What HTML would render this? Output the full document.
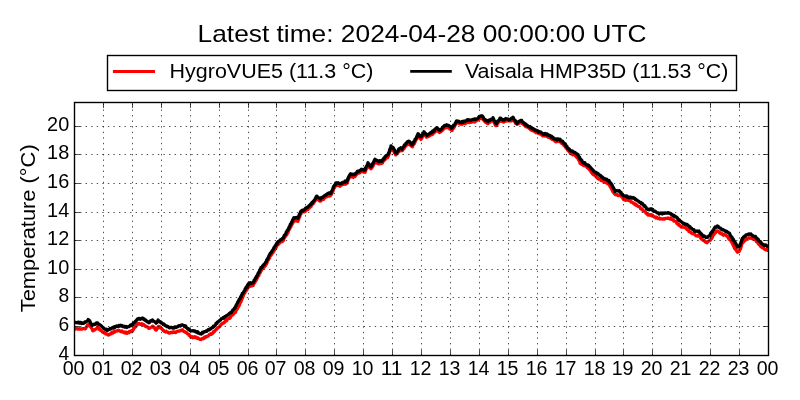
<!DOCTYPE html>
<html><head><meta charset="utf-8"><style>
html,body{margin:0;padding:0;background:#fff;width:800px;height:400px;overflow:hidden}
svg{display:block;will-change:transform}
text{font-family:"Liberation Sans",sans-serif;fill:#000}
</style></head><body>
<svg width="800" height="400" viewBox="0 0 800 400">
<rect width="800" height="400" fill="#fff"/>
<defs><clipPath id="ax"><rect x="74.5" y="102.5" width="694.00" height="253.00"/></clipPath></defs>
<text x="197.6" y="41.9" font-size="23.8" textLength="448.9" lengthAdjust="spacingAndGlyphs">Latest time: 2024-04-28 00:00:00 UTC</text>
<rect x="107.5" y="55.5" width="629" height="35" fill="#fff" stroke="#000" stroke-width="1.39"/>
<path d="M114.3 71.5H153.6" stroke="#f00" stroke-width="2.78" stroke-linecap="square"/>
<path d="M411.6 71.4H450.4" stroke="#000" stroke-width="2.78" stroke-linecap="square"/>
<g font-size="19.9">
<text x="169.6" y="78.1" textLength="203.9" lengthAdjust="spacingAndGlyphs">HygroVUE5 (11.3 °C)</text>
<text x="464.9" y="78.1" textLength="263.5" lengthAdjust="spacingAndGlyphs">Vaisala HMP35D (11.53 °C)</text>
<text x="73.60" y="375.3" text-anchor="middle" textLength="21.8" lengthAdjust="spacingAndGlyphs">00</text><text x="102.60" y="375.3" text-anchor="middle" textLength="21.8" lengthAdjust="spacingAndGlyphs">01</text><text x="131.60" y="375.3" text-anchor="middle" textLength="21.8" lengthAdjust="spacingAndGlyphs">02</text><text x="160.60" y="375.3" text-anchor="middle" textLength="21.8" lengthAdjust="spacingAndGlyphs">03</text><text x="189.60" y="375.3" text-anchor="middle" textLength="21.8" lengthAdjust="spacingAndGlyphs">04</text><text x="218.60" y="375.3" text-anchor="middle" textLength="21.8" lengthAdjust="spacingAndGlyphs">05</text><text x="247.60" y="375.3" text-anchor="middle" textLength="21.8" lengthAdjust="spacingAndGlyphs">06</text><text x="275.60" y="375.3" text-anchor="middle" textLength="21.8" lengthAdjust="spacingAndGlyphs">07</text><text x="304.60" y="375.3" text-anchor="middle" textLength="21.8" lengthAdjust="spacingAndGlyphs">08</text><text x="333.60" y="375.3" text-anchor="middle" textLength="21.8" lengthAdjust="spacingAndGlyphs">09</text><text x="362.60" y="375.3" text-anchor="middle" textLength="21.8" lengthAdjust="spacingAndGlyphs">10</text><text x="391.60" y="375.3" text-anchor="middle" textLength="21.8" lengthAdjust="spacingAndGlyphs">11</text><text x="420.60" y="375.3" text-anchor="middle" textLength="21.8" lengthAdjust="spacingAndGlyphs">12</text><text x="449.60" y="375.3" text-anchor="middle" textLength="21.8" lengthAdjust="spacingAndGlyphs">13</text><text x="478.60" y="375.3" text-anchor="middle" textLength="21.8" lengthAdjust="spacingAndGlyphs">14</text><text x="507.60" y="375.3" text-anchor="middle" textLength="21.8" lengthAdjust="spacingAndGlyphs">15</text><text x="536.60" y="375.3" text-anchor="middle" textLength="21.8" lengthAdjust="spacingAndGlyphs">16</text><text x="565.60" y="375.3" text-anchor="middle" textLength="21.8" lengthAdjust="spacingAndGlyphs">17</text><text x="594.60" y="375.3" text-anchor="middle" textLength="21.8" lengthAdjust="spacingAndGlyphs">18</text><text x="622.60" y="375.3" text-anchor="middle" textLength="21.8" lengthAdjust="spacingAndGlyphs">19</text><text x="651.60" y="375.3" text-anchor="middle" textLength="21.8" lengthAdjust="spacingAndGlyphs">20</text><text x="680.60" y="375.3" text-anchor="middle" textLength="21.8" lengthAdjust="spacingAndGlyphs">21</text><text x="709.60" y="375.3" text-anchor="middle" textLength="21.8" lengthAdjust="spacingAndGlyphs">22</text><text x="738.60" y="375.3" text-anchor="middle" textLength="21.8" lengthAdjust="spacingAndGlyphs">23</text><text x="767.60" y="375.3" text-anchor="middle" textLength="21.8" lengthAdjust="spacingAndGlyphs">00</text><text x="69.20" y="359.60" text-anchor="end" textLength="10.7" lengthAdjust="spacingAndGlyphs">4</text><text x="69.20" y="330.60" text-anchor="end" textLength="10.7" lengthAdjust="spacingAndGlyphs">6</text><text x="69.20" y="301.60" text-anchor="end" textLength="10.7" lengthAdjust="spacingAndGlyphs">8</text><text x="69.20" y="273.60" text-anchor="end" textLength="22.1" lengthAdjust="spacingAndGlyphs">10</text><text x="69.20" y="244.60" text-anchor="end" textLength="22.1" lengthAdjust="spacingAndGlyphs">12</text><text x="69.20" y="216.60" text-anchor="end" textLength="22.1" lengthAdjust="spacingAndGlyphs">14</text><text x="69.20" y="187.60" text-anchor="end" textLength="22.1" lengthAdjust="spacingAndGlyphs">16</text><text x="69.20" y="158.60" text-anchor="end" textLength="22.1" lengthAdjust="spacingAndGlyphs">18</text><text x="69.20" y="130.60" text-anchor="end" textLength="22.1" lengthAdjust="spacingAndGlyphs">20</text>
<text transform="translate(35.2 228.3) rotate(-90)" text-anchor="middle" textLength="168" lengthAdjust="spacingAndGlyphs">Temperature (°C)</text>
</g>
<g clip-path="url(#ax)" fill="none" stroke-width="3.3" stroke-linejoin="round" stroke-linecap="square">
<polyline points="74.6,329.0 75.3,329.1 76.0,328.1 76.8,328.1 77.5,329.1 78.2,329.0 78.9,329.0 79.6,328.6 80.3,329.0 81.1,329.0 81.8,329.1 82.5,328.6 83.1,328.7 83.7,328.5 84.4,328.7 85.0,328.9 85.6,328.6 86.0,327.6 86.5,327.0 87.0,326.2 87.4,325.4 87.8,324.9 88.3,324.9 88.8,324.2 89.1,324.8 89.5,326.0 89.9,326.1 90.3,326.7 90.7,326.9 91.1,327.2 91.5,328.1 91.9,328.5 92.3,329.5 92.7,330.6 93.1,330.8 93.6,329.8 94.2,330.3 94.8,329.8 95.3,329.3 95.8,329.2 96.4,328.6 97.0,328.2 97.5,327.3 98.0,328.5 98.6,329.0 99.2,328.5 99.7,329.7 100.2,330.1 100.8,330.3 101.4,330.8 101.9,331.2 102.5,332.1 103.1,331.9 103.8,332.7 104.4,332.4 105.0,333.4 105.6,333.8 106.3,333.6 106.9,334.1 107.5,334.8 108.1,334.9 108.8,335.0 109.4,334.2 110.0,334.0 110.6,334.0 111.2,332.9 111.9,333.4 112.5,332.2 113.1,332.8 113.8,331.8 114.4,332.3 115.0,331.8 115.6,331.3 116.2,331.1 116.9,331.0 117.5,330.7 118.2,330.5 119.0,330.5 119.8,331.0 120.5,331.6 121.2,331.4 122.0,331.0 122.7,332.1 123.4,332.2 124.1,332.7 124.8,332.0 125.5,332.9 126.2,332.3 126.9,333.3 127.5,332.5 128.1,332.2 128.8,332.7 129.4,331.5 130.0,331.7 130.6,331.9 131.3,330.8 131.9,330.5 132.5,331.1 132.9,329.9 133.3,329.7 133.8,328.3 134.2,328.2 134.6,327.4 135.0,327.4 135.4,326.1 135.8,326.6 136.2,324.9 136.7,325.2 137.1,323.7 137.5,323.5 138.2,324.2 138.9,323.5 139.6,323.6 140.4,324.4 141.1,324.1 141.8,323.8 142.5,325.0 143.1,324.4 143.8,324.6 144.4,325.3 145.0,326.0 145.6,326.5 146.2,326.2 146.9,326.8 147.5,326.8 148.1,327.7 148.8,328.4 149.4,328.1 150.0,328.0 150.6,327.5 151.2,327.3 151.9,326.8 152.5,326.2 153.0,326.4 153.4,327.4 153.9,327.4 154.4,327.6 154.8,328.5 155.3,329.5 155.8,329.1 156.2,330.1 156.7,329.2 157.1,328.8 157.5,327.7 157.9,328.1 158.3,326.6 158.8,326.4 159.2,326.6 159.7,326.6 160.2,327.7 160.6,327.7 161.1,328.1 161.6,328.5 162.0,329.1 162.5,329.5 163.1,330.4 163.8,330.6 164.4,331.4 165.0,331.6 165.6,332.0 166.2,331.3 166.9,331.9 167.5,331.9 168.1,332.6 168.8,332.9 169.4,333.1 170.1,332.9 170.8,332.3 171.5,332.5 172.2,332.6 172.8,331.9 173.5,331.9 174.2,332.3 174.9,331.9 175.6,332.6 176.2,331.9 176.9,331.5 177.6,331.4 178.3,331.2 179.0,330.9 179.7,331.0 180.4,330.7 181.1,330.3 181.8,330.4 182.5,329.7 183.1,330.9 183.6,331.4 184.2,331.5 184.7,331.6 185.3,332.1 185.8,332.6 186.4,332.4 186.9,333.2 187.5,333.8 188.0,333.8 188.6,334.2 189.1,335.5 189.6,335.4 190.2,336.0 190.7,337.0 191.2,337.0 192.0,336.7 192.7,337.7 193.4,337.0 194.1,336.7 194.8,337.6 195.5,336.9 196.2,337.3 196.9,338.2 197.5,338.3 198.1,337.9 198.7,338.7 199.4,339.0 200.0,339.4 200.6,339.4 201.2,339.5 201.9,338.6 202.5,338.5 203.1,338.3 203.7,338.7 204.4,337.3 205.0,337.8 205.6,336.8 206.2,337.0 206.9,336.4 207.5,336.1 208.1,336.1 208.8,335.3 209.4,334.5 210.0,334.2 210.6,333.7 211.2,334.3 211.9,333.6 212.5,333.7 213.0,332.9 213.5,331.6 213.9,331.9 214.4,331.5 214.9,331.0 215.4,330.2 215.9,329.6 216.3,329.2 216.8,329.2 217.3,328.1 217.8,327.9 218.3,327.3 218.8,327.4 219.2,326.8 219.8,326.5 220.2,326.0 220.8,324.9 221.2,324.4 221.8,324.2 222.2,323.5 222.8,323.3 223.2,323.2 223.8,323.0 224.3,322.1 224.9,322.0 225.5,320.7 226.0,320.5 226.6,320.8 227.2,319.3 227.7,319.2 228.3,318.3 228.9,317.9 229.4,318.4 230.0,318.1 230.5,317.2 231.0,316.1 231.5,315.8 232.0,315.2 232.5,315.2 233.0,314.7 233.5,313.9 234.0,313.5 234.5,312.5 235.0,312.5 235.4,312.4 235.7,311.6 236.1,310.1 236.4,310.0 236.8,309.6 237.1,308.5 237.5,308.6 237.9,307.5 238.2,307.1 238.6,306.1 238.9,306.2 239.3,305.3 239.6,304.5 240.0,303.3 240.2,303.0 240.5,301.9 240.8,302.0 241.0,301.7 241.2,300.2 241.5,300.0 241.8,299.3 242.0,298.6 242.2,298.3 242.5,297.9 242.8,297.0 243.0,296.1 243.2,296.1 243.5,294.7 243.8,294.5 244.0,293.8 244.4,293.3 244.8,292.9 245.2,291.6 245.5,291.5 245.9,290.6 246.3,290.4 246.7,290.2 247.1,289.2 247.5,287.9 247.8,287.9 248.2,287.6 248.6,287.2 249.0,286.4 249.7,286.4 250.3,285.2 251.0,286.1 251.7,285.7 252.3,285.3 253.0,285.5 253.4,284.9 253.7,283.4 254.1,283.6 254.5,283.0 254.8,281.7 255.2,281.8 255.5,281.0 255.9,280.0 256.3,280.1 256.6,278.7 257.0,278.7 257.3,277.9 257.6,277.1 257.9,276.8 258.2,276.1 258.5,275.2 258.8,275.5 259.2,273.8 259.5,273.1 259.8,273.0 260.1,272.9 260.4,272.0 260.7,271.5 261.0,270.6 261.5,270.3 261.9,269.3 262.4,268.7 262.8,268.4 263.3,267.3 263.7,266.8 264.2,267.1 264.6,265.8 265.1,266.0 265.5,265.5 266.0,264.5 266.3,264.2 266.6,263.7 266.9,263.2 267.2,261.7 267.5,261.1 267.8,260.8 268.2,260.2 268.5,259.4 268.8,258.5 269.1,258.5 269.4,258.4 269.7,257.1 270.0,256.6 270.4,255.9 270.8,255.3 271.2,255.2 271.6,254.0 272.0,253.8 272.4,253.0 272.8,252.4 273.2,252.3 273.6,250.7 274.0,251.0 274.4,249.8 274.7,249.6 275.1,249.2 275.5,248.5 275.8,247.6 276.2,247.5 276.5,246.0 276.9,246.1 277.3,245.2 277.6,244.8 278.0,244.6 278.6,244.2 279.1,243.6 279.7,242.8 280.2,242.3 280.8,242.1 281.3,241.5 281.9,241.1 282.4,241.5 283.0,240.1 283.4,240.4 283.7,239.2 284.1,238.6 284.4,238.0 284.8,237.1 285.1,236.9 285.5,235.9 285.9,235.7 286.2,234.9 286.6,235.0 286.9,234.4 287.3,233.2 287.6,232.9 288.0,232.6 288.3,231.2 288.7,230.3 289.0,229.8 289.3,229.1 289.7,229.0 290.0,228.0 290.3,227.3 290.7,227.2 291.0,225.9 291.3,226.0 291.6,225.2 291.9,224.3 292.2,224.2 292.5,223.0 292.8,223.1 293.1,222.5 293.4,221.4 293.7,221.0 294.0,220.7 294.7,220.6 295.3,220.6 296.0,220.8 296.7,221.0 297.3,220.8 298.0,221.2 298.2,219.7 298.5,219.5 298.8,218.9 299.0,217.9 299.2,217.3 299.5,216.5 299.8,216.8 300.0,215.4 300.2,214.9 300.5,214.8 300.8,213.3 301.0,213.7 301.7,212.3 302.3,211.9 303.0,211.9 303.7,211.6 304.3,211.9 305.0,211.6 305.6,211.0 306.1,210.2 306.7,209.9 307.3,209.1 307.9,209.4 308.4,208.4 309.0,207.8 309.5,207.8 310.0,206.7 310.5,206.4 311.0,206.6 311.5,205.1 312.0,204.7 312.5,204.2 313.0,203.8 313.4,203.4 313.8,202.6 314.2,202.1 314.6,201.4 315.0,200.8 315.4,200.6 315.8,199.7 316.2,199.1 316.6,199.0 317.0,197.6 317.5,198.2 318.0,199.5 318.5,199.5 319.0,200.4 319.5,200.2 320.0,201.1 320.6,201.1 321.2,200.1 321.8,200.2 322.4,199.6 323.0,199.0 323.6,199.3 324.1,198.1 324.7,197.8 325.3,197.5 325.9,196.7 326.4,196.9 327.0,196.2 327.7,196.0 328.3,195.8 329.0,196.2 329.7,196.0 330.3,195.7 331.0,195.0 331.3,194.4 331.5,193.9 331.8,192.6 332.1,192.1 332.4,192.5 332.6,190.8 332.9,191.2 333.2,190.2 333.5,189.9 333.7,188.2 334.0,187.9 334.4,187.9 334.9,186.5 335.3,186.1 335.7,185.9 336.1,185.1 336.6,184.6 337.0,184.7 337.6,184.3 338.2,185.5 338.8,185.4 339.4,184.9 340.0,186.2 340.7,185.1 341.3,185.1 342.0,185.0 342.7,184.2 343.3,184.4 344.0,183.6 344.6,183.5 345.2,184.2 345.8,183.9 346.4,183.3 347.0,183.3 347.3,182.9 347.5,181.4 347.8,181.2 348.1,180.1 348.4,179.5 348.6,178.8 348.9,178.3 349.2,177.5 349.5,177.0 349.7,176.6 350.0,176.2 350.7,176.7 351.3,176.9 352.0,176.9 352.7,176.8 353.3,177.4 354.0,176.7 354.5,176.1 355.0,176.5 355.5,175.8 356.0,174.8 356.5,174.5 357.0,173.9 357.6,173.6 358.2,173.3 358.9,172.9 359.5,173.0 360.1,172.6 360.8,171.9 361.4,171.4 362.0,170.8 362.6,171.6 363.2,172.1 363.8,171.4 364.4,172.1 365.0,172.3 365.3,171.7 365.5,170.3 365.8,170.3 366.1,169.2 366.4,168.6 366.6,168.4 366.9,167.8 367.2,167.2 367.5,166.7 367.7,166.0 368.0,165.1 368.4,165.1 368.9,166.6 369.3,167.2 369.7,167.8 370.1,168.1 370.6,168.0 371.0,168.7 371.3,168.0 371.7,168.0 372.0,167.3 372.3,166.3 372.7,166.6 373.0,166.0 373.3,165.3 373.7,164.1 374.0,163.3 374.3,162.6 374.7,162.7 375.0,161.9 375.6,161.8 376.2,163.0 376.8,163.0 377.4,163.2 378.0,163.6 378.7,163.9 379.3,163.4 380.0,163.6 380.7,162.8 381.3,163.4 382.0,162.8 382.4,163.0 382.9,161.6 383.3,161.2 383.8,160.9 384.2,160.2 384.7,159.8 385.1,159.7 385.6,158.3 386.0,158.4 386.7,158.0 387.3,157.8 388.0,157.0 388.2,156.4 388.5,155.6 388.7,155.1 388.9,154.2 389.2,153.4 389.4,153.1 389.6,152.1 389.8,151.8 390.1,151.2 390.3,150.3 390.5,149.4 390.8,149.3 391.0,148.9 391.5,148.6 392.0,149.4 392.5,149.9 393.0,150.6 393.4,150.9 393.8,151.1 394.1,151.6 394.5,153.0 394.9,153.0 395.2,153.3 395.6,154.9 396.0,154.7 396.4,154.3 396.9,153.8 397.3,153.1 397.8,153.1 398.2,152.1 398.7,151.7 399.1,151.1 399.6,151.1 400.0,149.5 400.7,150.5 401.3,150.3 402.0,150.7 402.4,150.6 402.8,149.8 403.2,148.8 403.6,148.8 404.0,148.6 404.4,147.7 404.8,146.9 405.2,146.7 405.6,146.2 406.0,144.7 406.6,144.5 407.2,144.9 407.8,144.4 408.4,143.1 409.0,143.3 409.4,144.1 409.9,144.4 410.3,145.1 410.7,145.4 411.1,145.6 411.6,146.2 412.0,146.6 412.4,146.7 412.8,145.4 413.1,145.4 413.5,144.5 413.9,143.9 414.2,143.9 414.6,142.6 415.0,142.1 415.3,141.4 415.6,140.6 415.9,140.0 416.2,139.7 416.5,139.5 416.8,138.0 417.1,138.4 417.4,137.5 417.7,136.2 418.0,136.3 418.5,136.5 419.0,137.1 419.5,137.1 420.0,138.1 420.5,138.6 421.0,139.4 421.4,138.6 421.8,138.2 422.1,137.7 422.5,136.5 422.9,135.7 423.2,135.6 423.6,134.6 424.0,134.1 424.5,134.7 425.0,135.4 425.5,135.9 426.0,136.4 426.5,137.2 427.0,136.6 427.7,136.8 428.3,135.9 429.0,136.3 429.7,135.7 430.3,135.0 431.0,134.9 431.6,134.8 432.1,134.1 432.7,134.2 433.3,133.0 433.9,132.5 434.4,132.7 435.0,131.8 435.5,130.7 436.0,131.0 436.5,130.0 437.0,130.2 437.5,130.3 438.0,131.0 438.5,131.6 439.0,131.6 439.5,132.6 440.0,131.9 440.5,131.8 441.0,131.8 441.5,130.3 442.0,130.5 442.5,130.3 443.0,129.5 443.5,129.1 444.0,127.6 444.7,128.0 445.3,127.9 446.0,127.5 446.7,127.3 447.3,127.6 448.0,126.7 448.6,127.0 449.1,128.1 449.7,128.9 450.3,129.2 450.9,129.5 451.4,129.4 452.0,130.6 452.4,129.0 452.8,128.6 453.2,128.7 453.5,128.2 453.9,127.1 454.3,127.1 454.7,125.5 455.1,125.5 455.5,124.3 455.8,123.9 456.2,123.3 456.6,122.5 457.0,122.4 457.6,122.8 458.2,122.9 458.8,123.6 459.4,123.2 460.0,124.1 460.7,124.1 461.3,123.9 462.0,124.4 462.7,123.4 463.3,123.7 464.0,123.7 464.7,123.3 465.3,123.7 466.0,123.0 466.7,122.7 467.3,122.3 468.0,122.0 468.7,122.6 469.3,122.5 470.0,122.3 470.7,121.7 471.3,122.2 472.0,121.7 472.7,121.8 473.3,121.2 474.0,121.8 474.7,122.0 475.3,121.4 476.0,121.2 476.6,120.4 477.2,120.2 477.8,119.9 478.4,119.4 479.0,118.8 479.6,118.4 480.2,118.7 480.8,118.6 481.4,118.1 482.0,117.5 482.4,117.4 482.8,118.3 483.1,119.5 483.5,120.2 483.9,120.2 484.2,120.8 484.6,121.5 485.0,121.5 485.6,122.4 486.2,122.3 486.8,123.2 487.4,123.0 488.0,123.6 488.5,123.0 489.0,122.6 489.5,122.1 490.0,122.2 490.5,121.5 491.0,120.7 491.7,120.6 492.3,120.9 493.0,120.5 493.3,121.0 493.7,122.0 494.0,121.6 494.3,122.8 494.7,123.5 495.0,123.9 495.3,125.1 495.7,125.7 496.0,125.7 496.4,125.4 496.8,125.0 497.2,124.4 497.6,123.4 498.0,123.4 498.4,122.3 498.8,121.5 499.2,121.5 499.6,120.9 500.0,120.1 500.7,120.5 501.3,121.3 502.0,121.4 502.7,121.2 503.3,122.0 504.0,121.9 504.6,121.4 505.2,121.3 505.8,121.2 506.4,121.0 507.0,120.4 507.7,120.8 508.3,120.9 509.0,120.8 509.7,121.0 510.3,120.3 511.0,120.9 511.7,119.9 512.3,119.9 513.0,119.7 513.4,119.6 513.8,120.9 514.2,120.8 514.6,121.1 515.0,122.2 515.4,122.5 515.8,123.7 516.2,123.7 516.6,123.8 517.0,124.2 517.5,123.8 518.0,123.9 518.5,123.8 519.1,122.5 519.6,122.5 520.1,122.2 520.6,122.3 521.1,122.9 521.7,123.3 522.2,123.5 522.8,123.9 523.4,124.0 523.9,124.9 524.5,124.9 525.0,125.6 525.6,126.6 526.2,126.6 526.8,127.2 527.4,127.2 528.0,127.3 528.6,128.0 529.2,128.4 529.8,128.4 530.4,129.5 531.0,130.0 531.6,129.4 532.2,129.8 532.8,130.8 533.4,131.0 534.0,130.8 534.6,131.5 535.2,131.5 535.8,132.6 536.4,132.6 537.0,132.8 537.7,132.7 538.3,133.3 539.0,133.6 539.7,133.8 540.3,133.9 541.0,134.2 541.7,135.1 542.3,135.6 543.0,135.8 543.7,135.7 544.3,136.0 545.0,135.4 545.7,135.6 546.3,136.3 547.0,135.6 547.6,136.0 548.2,137.2 548.9,136.8 549.5,137.1 550.1,137.7 550.8,138.6 551.4,137.9 552.0,139.3 552.6,138.9 553.1,139.6 553.7,139.9 554.3,139.8 554.9,141.2 555.4,140.6 556.0,141.8 556.8,141.7 557.5,141.0 558.2,141.5 559.0,140.3 559.6,140.8 560.1,141.7 560.7,141.7 561.3,143.0 561.9,143.1 562.4,143.9 563.0,143.7 563.4,144.0 563.9,145.6 564.3,145.4 564.8,146.2 565.2,146.4 565.7,147.6 566.1,148.0 566.6,148.3 567.0,148.7 567.5,149.6 568.0,150.6 568.5,150.4 569.0,151.0 569.5,152.0 570.0,152.6 570.5,153.3 571.0,153.6 571.7,154.2 572.3,153.6 573.0,154.8 573.7,154.0 574.3,154.4 575.0,154.6 575.5,155.9 576.0,156.0 576.5,157.0 577.0,157.5 577.5,158.0 578.0,158.0 578.2,158.3 578.5,159.7 578.8,160.1 579.0,160.1 579.2,161.1 579.5,161.1 579.8,161.8 580.0,163.2 580.6,163.6 581.2,164.1 581.8,164.4 582.5,164.0 583.1,165.1 583.7,165.7 584.3,165.7 584.9,165.8 585.5,165.9 586.2,166.0 586.8,167.0 587.4,167.8 588.0,167.1 588.4,168.5 588.8,169.1 589.2,169.0 589.7,170.1 590.1,169.9 590.5,170.6 590.9,171.4 591.3,172.3 591.8,172.4 592.2,172.4 592.6,174.0 593.0,174.1 593.5,174.8 594.0,174.6 594.5,175.1 595.0,175.3 595.5,175.8 596.0,176.6 596.5,177.0 597.0,177.7 597.5,178.4 598.0,178.2 598.6,179.2 599.2,179.2 599.9,179.2 600.5,179.3 601.1,180.6 601.8,180.5 602.4,180.1 603.0,181.2 603.6,181.2 604.2,181.5 604.8,182.2 605.4,181.9 606.0,182.2 606.6,182.8 607.2,183.6 607.8,182.9 608.4,184.1 609.0,184.3 609.3,184.2 609.6,185.4 609.9,186.0 610.2,186.7 610.5,187.1 610.8,187.5 611.2,188.3 611.5,188.6 611.8,189.5 612.1,190.0 612.4,190.3 612.7,191.1 613.0,191.8 613.5,192.4 614.0,193.1 614.5,193.8 615.0,193.7 615.5,194.6 616.0,194.8 616.7,194.7 617.3,194.6 618.0,195.6 618.7,195.5 619.3,195.4 620.0,194.6 620.4,195.1 620.9,195.5 621.3,196.3 621.8,197.0 622.2,197.0 622.7,198.0 623.1,198.8 623.6,199.5 624.0,199.2 624.7,199.2 625.3,200.3 626.0,199.9 626.7,200.0 627.3,200.0 628.0,200.3 628.7,200.4 629.3,200.6 630.0,200.7 630.6,201.4 631.2,202.1 631.9,201.9 632.5,202.4 633.1,202.9 633.8,203.7 634.4,203.9 635.0,204.6 635.6,204.0 636.1,205.2 636.7,205.0 637.2,205.7 637.8,206.0 638.3,206.5 638.9,206.6 639.4,206.7 640.0,207.0 640.5,208.6 641.1,209.0 641.6,208.9 642.1,208.9 642.7,210.3 643.2,210.3 643.7,210.7 644.3,211.4 644.8,211.3 645.3,211.8 645.9,213.0 646.4,213.3 646.9,214.1 647.5,213.9 648.0,215.0 648.8,215.0 649.5,214.7 650.2,215.3 651.0,214.6 651.6,214.8 652.2,216.0 652.9,215.5 653.5,216.3 654.1,216.9 654.8,217.2 655.4,216.9 656.0,217.9 656.7,217.2 657.3,217.9 658.0,218.5 658.7,218.2 659.3,218.0 660.0,219.0 660.8,218.7 661.5,218.8 662.2,219.0 663.0,219.1 663.7,218.7 664.5,219.0 665.2,218.6 665.9,218.3 666.6,218.3 667.4,218.3 668.1,218.0 668.8,218.7 669.5,218.5 670.3,219.1 671.0,218.1 671.6,219.3 672.1,219.0 672.7,219.5 673.2,219.9 673.8,221.0 674.3,221.0 674.9,221.2 675.4,221.2 676.0,221.5 676.5,222.3 677.0,223.6 677.5,223.4 678.0,224.2 678.5,225.0 679.0,224.5 679.5,225.3 680.0,225.9 680.5,226.2 681.0,226.9 681.7,227.2 682.3,226.6 683.0,227.2 683.7,226.8 684.3,227.2 685.0,226.6 685.5,227.8 686.0,227.9 686.5,228.9 687.0,229.6 687.5,229.6 688.0,229.4 688.5,230.3 689.0,231.6 689.6,231.6 690.2,232.1 690.8,232.2 691.4,233.1 692.0,233.5 692.6,233.5 693.2,233.9 693.8,233.7 694.4,234.0 695.0,234.6 695.7,235.4 696.3,235.8 697.0,235.8 697.7,236.1 698.3,235.3 699.0,235.4 699.5,236.2 700.0,236.4 700.5,237.6 701.0,238.5 701.5,239.0 702.0,238.5 702.5,239.7 703.0,240.2 703.6,240.6 704.1,240.6 704.7,240.8 705.3,241.9 705.9,242.3 706.4,242.5 707.0,242.7 707.6,241.6 708.2,241.5 708.8,241.1 709.4,240.7 710.0,240.3 710.4,240.2 710.7,239.6 711.1,238.4 711.5,238.7 711.8,237.0 712.2,237.5 712.5,236.5 712.9,236.0 713.3,234.9 713.6,234.8 714.0,234.5 714.5,233.1 715.0,232.6 715.5,232.8 716.0,231.7 716.5,231.0 717.0,231.0 717.6,231.0 718.1,231.4 718.7,231.8 719.3,231.9 719.9,233.2 720.4,233.2 721.0,233.7 721.7,233.5 722.3,234.4 723.0,234.9 723.7,235.2 724.3,234.3 725.0,234.9 725.7,235.0 726.3,235.7 727.0,236.2 727.5,236.7 727.9,236.9 728.4,238.2 728.8,238.3 729.2,239.3 729.7,239.2 730.1,240.0 730.6,239.9 731.0,241.0 731.5,241.7 731.8,241.8 732.1,243.0 732.4,243.1 732.7,244.1 733.0,245.0 733.3,245.5 733.6,245.8 733.9,246.5 734.2,247.4 734.5,248.4 734.9,248.7 735.4,249.0 735.8,249.8 736.2,250.3 736.6,250.7 737.1,251.8 737.5,252.3 738.0,251.6 738.6,250.8 739.2,251.4 739.7,250.0 739.9,249.4 740.2,249.0 740.4,248.9 740.6,248.5 740.9,247.6 741.1,246.3 741.3,246.4 741.5,244.8 741.8,244.3 742.0,243.6 742.2,243.6 742.5,243.0 742.7,242.4 743.2,242.3 743.7,241.6 744.1,241.1 744.6,240.0 745.1,240.4 745.5,239.9 746.0,239.4 746.5,238.0 747.1,238.6 747.8,238.3 748.4,238.2 749.1,237.8 749.7,238.3 750.4,238.2 751.0,238.0 751.6,237.8 752.3,238.6 752.9,238.2 753.6,239.2 754.2,238.8 754.9,239.1 755.5,239.5 756.0,240.7 756.4,241.6 756.9,241.5 757.4,242.3 757.8,242.7 758.3,243.6 758.7,244.2 759.2,244.6 759.7,244.5 760.2,244.7 760.6,246.2 761.1,245.9 761.6,247.0 762.0,247.6 762.5,247.3 763.0,247.8 763.7,248.4 764.4,249.1 765.1,249.4 765.8,249.8 766.4,249.2 767.1,249.8 767.8,250.4 768.5,250.2" stroke="#f00"/>
<polyline points="74.6,322.2 75.3,322.6 75.9,322.4 76.6,322.7 77.3,322.8 78.0,322.1 78.7,322.1 79.3,323.1 80.0,322.5 80.8,322.5 81.5,323.5 82.2,322.9 83.0,323.4 83.8,323.1 84.3,322.9 84.9,321.9 85.4,322.1 86.0,322.1 86.5,321.3 87.1,321.2 87.6,320.7 88.2,319.6 88.8,320.1 89.1,320.4 89.5,320.7 89.8,320.9 90.2,322.5 90.5,322.6 90.9,323.5 91.2,324.3 91.6,324.7 91.9,325.5 92.6,324.6 93.3,324.9 94.0,324.2 94.7,324.6 95.4,324.3 96.1,323.1 96.8,322.9 97.5,322.8 98.1,324.1 98.6,323.9 99.2,324.5 99.7,324.6 100.3,325.2 100.8,325.5 101.4,325.9 101.9,326.6 102.5,327.0 103.0,327.8 103.6,327.9 104.2,328.6 104.7,328.9 105.2,329.4 105.8,329.4 106.4,329.2 106.9,330.4 107.5,330.3 108.1,330.1 108.8,329.4 109.4,329.4 110.0,328.6 110.6,329.1 111.2,328.6 111.9,328.0 112.5,327.5 113.1,328.2 113.8,328.1 114.4,326.8 115.0,327.4 115.6,326.6 116.3,326.1 116.9,326.0 117.6,326.5 118.3,326.5 119.0,325.4 119.8,326.0 120.5,325.2 121.2,326.0 121.9,325.4 122.6,326.3 123.3,326.7 124.0,326.3 124.7,327.1 125.4,326.6 126.1,326.5 126.8,327.4 127.5,326.9 128.1,326.7 128.8,326.6 129.4,326.5 130.0,325.5 130.6,325.0 131.2,325.6 131.9,324.6 132.5,325.0 133.0,324.4 133.4,323.3 133.9,322.9 134.3,322.5 134.8,322.1 135.2,321.6 135.7,321.0 136.1,320.6 136.6,320.5 137.0,319.5 137.5,318.9 138.2,319.2 138.9,318.5 139.6,318.5 140.4,319.3 141.1,318.7 141.8,318.6 142.5,317.9 143.1,318.8 143.6,319.3 144.2,319.0 144.8,320.1 145.3,320.5 145.9,320.2 146.5,321.2 147.0,321.4 147.6,322.0 148.2,322.0 148.8,322.7 149.4,322.4 150.0,321.2 150.6,320.8 151.2,321.2 151.9,321.2 152.5,320.0 153.0,320.6 153.6,321.2 154.1,321.3 154.6,321.7 155.2,322.1 155.7,322.5 156.2,323.2 156.7,322.2 157.2,321.7 157.6,321.6 158.1,320.0 158.7,321.1 159.2,321.7 159.8,321.6 160.3,321.8 160.8,322.9 161.4,322.6 161.9,323.0 162.5,323.7 163.1,324.3 163.8,324.0 164.4,324.6 165.0,325.0 165.6,325.9 166.2,325.8 166.9,326.6 167.5,326.2 168.1,326.7 168.8,327.4 169.5,327.9 170.2,327.5 171.0,327.4 171.8,327.5 172.5,328.1 173.1,327.5 173.8,328.1 174.4,327.9 175.0,326.9 175.6,326.8 176.2,327.3 176.9,326.9 177.6,326.8 178.3,326.1 179.0,325.6 179.7,325.6 180.4,326.0 181.1,325.1 181.8,325.0 182.5,324.9 183.1,325.2 183.8,325.5 184.4,326.5 185.0,325.9 185.6,326.0 186.2,327.4 186.8,327.8 187.3,328.4 187.9,328.3 188.4,329.4 188.9,329.8 189.5,329.4 190.0,330.5 190.7,330.8 191.4,330.8 192.1,330.8 192.9,330.7 193.6,331.0 194.3,331.0 195.0,331.0 195.7,331.8 196.4,331.7 197.1,332.5 197.8,331.8 198.5,333.1 199.2,333.1 199.9,333.6 200.6,333.8 201.2,334.0 201.9,333.3 202.5,332.3 203.1,332.9 203.8,331.9 204.4,331.7 205.0,331.8 205.6,331.3 206.2,330.9 206.9,331.2 207.5,330.5 208.1,329.8 208.8,329.4 209.4,329.8 210.0,329.0 210.6,329.1 211.3,328.2 211.9,327.7 212.4,327.6 212.9,327.4 213.4,326.2 214.0,326.4 214.5,326.0 215.0,325.4 215.5,324.9 216.0,323.5 216.5,323.7 217.0,323.5 217.5,322.1 218.0,321.9 218.5,321.4 219.0,321.2 219.5,320.6 220.0,320.2 220.6,320.2 221.1,318.9 221.7,318.6 222.2,318.3 222.8,317.9 223.3,317.5 223.9,318.2 224.4,317.7 225.0,316.4 225.6,316.5 226.1,315.9 226.7,315.5 227.3,315.1 227.8,315.1 228.4,314.6 229.0,313.9 229.5,313.3 230.1,313.1 230.7,312.4 231.2,312.6 231.7,312.2 232.1,311.2 232.5,310.3 232.9,309.9 233.3,309.6 233.8,309.3 234.2,309.0 234.6,307.9 235.0,307.9 235.3,307.0 235.7,306.2 236.0,305.5 236.3,305.0 236.7,304.6 237.0,303.7 237.3,303.4 237.7,302.5 238.0,301.6 238.3,301.3 238.7,300.9 239.0,299.5 239.3,299.3 239.7,298.7 240.0,298.7 240.3,298.1 240.7,296.8 241.0,296.9 241.3,296.1 241.7,294.9 242.0,294.6 242.3,293.5 242.7,293.8 243.0,293.0 243.3,292.7 243.7,292.0 244.0,291.2 244.4,290.7 244.8,289.9 245.2,288.8 245.5,288.8 245.9,287.6 246.3,287.2 246.7,287.3 247.1,285.9 247.5,285.4 247.8,284.8 248.2,285.2 248.6,283.8 249.0,283.0 249.7,283.8 250.3,282.7 251.0,283.4 251.7,283.0 252.3,283.0 253.0,282.9 253.4,281.9 253.7,281.6 254.1,280.1 254.5,280.4 254.8,279.5 255.2,279.2 255.5,277.9 255.9,278.0 256.3,277.7 256.6,276.1 257.0,275.8 257.3,275.5 257.6,275.2 257.9,273.8 258.2,273.2 258.5,272.6 258.8,272.4 259.2,272.0 259.5,270.9 259.8,270.3 260.1,269.7 260.4,269.1 260.7,268.5 261.0,267.5 261.5,267.5 261.9,267.5 262.4,266.3 262.8,266.1 263.3,264.9 263.7,265.0 264.2,264.5 264.6,263.8 265.1,263.1 265.5,262.5 266.0,262.2 266.3,261.9 266.6,260.3 266.9,259.7 267.2,259.8 267.5,259.4 267.8,258.3 268.2,257.6 268.5,257.3 268.8,256.1 269.1,255.6 269.4,254.9 269.7,254.7 270.0,253.8 270.4,253.1 270.8,253.0 271.2,252.7 271.6,251.4 272.0,251.2 272.4,250.3 272.8,250.2 273.2,249.3 273.6,248.3 274.0,247.7 274.4,246.8 274.7,246.8 275.1,246.1 275.5,245.3 275.8,244.9 276.2,244.3 276.5,244.3 276.9,242.9 277.3,243.4 277.6,242.2 278.0,241.7 278.6,241.2 279.1,241.2 279.7,240.8 280.2,240.1 280.8,239.6 281.3,239.5 281.9,239.2 282.4,238.3 283.0,238.3 283.4,237.9 283.7,236.7 284.1,235.9 284.4,235.3 284.8,235.2 285.1,234.6 285.5,234.3 285.9,233.6 286.2,232.2 286.6,231.6 286.9,231.0 287.3,230.3 287.6,230.4 288.0,229.9 288.3,229.3 288.7,227.9 289.0,228.0 289.3,226.7 289.7,226.1 290.0,225.8 290.3,224.4 290.7,223.8 291.0,224.0 291.3,222.8 291.6,222.2 291.9,221.9 292.2,221.4 292.5,220.0 292.8,219.8 293.1,219.3 293.4,218.8 293.7,217.9 294.0,217.7 294.7,218.2 295.3,217.6 296.0,217.9 296.7,217.4 297.3,217.7 298.0,218.2 298.3,216.9 298.5,217.2 298.8,216.6 299.1,215.0 299.4,215.3 299.6,214.0 299.9,213.9 300.2,213.2 300.5,212.0 300.7,211.8 301.0,211.2 301.7,211.0 302.3,210.1 303.0,210.3 303.7,210.2 304.3,209.5 305.0,209.0 305.6,208.1 306.1,208.1 306.7,207.5 307.3,207.5 307.9,207.1 308.4,206.5 309.0,205.6 309.5,205.7 310.0,205.2 310.5,204.1 311.0,204.5 311.5,203.7 312.0,202.5 312.5,203.0 313.0,201.6 313.4,201.2 313.8,201.1 314.2,200.3 314.6,199.7 315.0,199.2 315.4,198.3 315.8,197.6 316.2,196.8 316.6,196.1 317.0,196.3 317.5,196.8 318.0,197.1 318.5,197.8 319.0,197.8 319.5,198.2 320.0,198.9 320.6,199.0 321.2,197.7 321.8,197.8 322.4,197.1 323.0,197.3 323.6,196.4 324.1,195.9 324.7,195.6 325.3,195.3 325.9,195.2 326.4,194.3 327.0,194.4 327.7,193.4 328.3,193.4 329.0,193.0 329.7,192.9 330.3,193.5 331.0,193.3 331.3,192.0 331.5,191.4 331.8,191.0 332.1,190.7 332.4,190.2 332.6,189.5 332.9,188.7 333.2,187.5 333.5,187.2 333.7,186.3 334.0,186.0 334.4,185.6 334.9,184.6 335.3,184.2 335.7,184.3 336.1,182.9 336.6,183.3 337.0,182.9 337.6,183.2 338.2,182.7 338.8,183.2 339.4,183.5 340.0,183.8 340.7,183.9 341.3,183.3 342.0,182.6 342.7,183.0 343.3,182.2 344.0,182.1 344.6,182.1 345.2,181.0 345.8,181.7 346.4,181.4 347.0,181.0 347.3,180.4 347.5,179.7 347.8,178.7 348.1,178.5 348.4,177.3 348.6,177.2 348.9,176.7 349.2,175.8 349.5,175.4 349.7,175.2 350.0,174.5 350.7,173.7 351.3,174.7 352.0,174.6 352.7,174.1 353.3,174.7 354.0,174.7 354.5,174.0 355.0,174.0 355.5,174.0 356.0,172.8 356.5,172.9 357.0,172.2 357.6,171.2 358.2,171.7 358.9,171.0 359.5,171.0 360.1,170.4 360.8,170.0 361.4,169.2 362.0,169.4 362.6,169.7 363.2,169.8 363.8,169.5 364.4,170.1 365.0,170.0 365.3,168.9 365.5,168.2 365.8,167.6 366.1,167.1 366.4,166.4 366.6,166.2 366.9,165.8 367.2,165.0 367.5,164.2 367.7,163.8 368.0,162.8 368.4,163.5 368.9,164.5 369.3,164.6 369.7,164.9 370.1,166.3 370.6,166.7 371.0,166.8 371.3,166.2 371.7,165.8 372.0,165.3 372.3,164.2 372.7,163.3 373.0,163.0 373.3,163.0 373.7,161.6 374.0,161.4 374.3,160.5 374.7,159.9 375.0,159.2 375.6,159.9 376.2,160.0 376.8,160.2 377.4,160.7 378.0,161.2 378.7,161.5 379.3,160.9 380.0,160.7 380.7,161.1 381.3,161.0 382.0,161.2 382.4,159.9 382.9,159.8 383.3,159.2 383.8,158.2 384.2,158.8 384.7,157.3 385.1,156.6 385.6,156.5 386.0,155.6 386.7,155.8 387.3,155.1 388.0,154.5 388.2,153.8 388.5,154.0 388.7,152.7 388.9,152.7 389.2,151.7 389.4,151.6 389.6,150.1 389.8,149.4 390.1,148.8 390.3,148.8 390.5,147.9 390.8,146.9 391.0,145.9 391.5,147.0 392.0,147.8 392.5,147.7 393.0,147.4 393.4,148.1 393.8,148.8 394.1,149.5 394.5,149.9 394.9,150.6 395.2,151.9 395.6,152.9 396.0,152.6 396.4,153.0 396.9,151.9 397.3,151.7 397.8,151.3 398.2,150.8 398.7,149.1 399.1,148.9 399.6,148.7 400.0,148.5 400.7,147.8 401.3,148.4 402.0,149.4 402.4,147.9 402.8,147.7 403.2,147.0 403.6,146.8 404.0,146.5 404.4,145.0 404.8,145.1 405.2,144.5 405.6,144.0 406.0,143.1 406.6,143.1 407.2,142.0 407.8,141.7 408.4,141.1 409.0,141.3 409.4,141.5 409.9,141.9 410.3,142.3 410.7,143.6 411.1,144.0 411.6,144.7 412.0,144.9 412.4,144.4 412.8,143.3 413.1,143.4 413.5,141.9 413.9,141.8 414.2,141.6 414.6,140.8 415.0,139.5 415.3,139.1 415.6,139.2 415.9,138.4 416.2,138.1 416.5,137.4 416.8,136.3 417.1,136.3 417.4,135.5 417.7,134.4 418.0,133.8 418.5,134.0 419.0,134.9 419.5,136.0 420.0,135.5 420.5,136.6 421.0,136.5 421.4,135.9 421.8,136.0 422.1,135.0 422.5,134.2 422.9,133.7 423.2,133.7 423.6,133.1 424.0,131.8 424.5,132.5 425.0,133.8 425.5,133.4 426.0,134.2 426.5,134.5 427.0,135.3 427.7,134.8 428.3,134.7 429.0,134.0 429.7,133.3 430.3,132.9 431.0,132.5 431.6,132.9 432.1,131.6 432.7,131.0 433.3,131.6 433.9,130.2 434.4,130.6 435.0,129.1 435.5,129.1 436.0,128.3 436.5,128.5 437.0,127.7 437.5,128.2 438.0,128.8 438.5,129.4 439.0,129.3 439.5,130.1 440.0,130.3 440.5,129.4 441.0,129.7 441.5,128.9 442.0,128.6 442.5,127.3 443.0,127.1 443.5,126.5 444.0,126.3 444.7,125.3 445.3,125.5 446.0,125.5 446.7,124.8 447.3,125.2 448.0,125.3 448.6,125.3 449.1,126.0 449.7,126.4 450.3,126.4 450.9,127.0 451.4,128.2 452.0,127.8 452.4,127.3 452.8,126.3 453.2,125.9 453.5,125.3 453.9,125.6 454.3,124.8 454.7,124.4 455.1,123.9 455.5,122.9 455.8,122.7 456.2,121.6 456.6,120.9 457.0,120.9 457.6,121.2 458.2,121.6 458.8,121.3 459.4,122.0 460.0,121.9 460.7,122.5 461.3,122.4 462.0,121.6 462.7,122.3 463.3,121.3 464.0,121.1 464.7,121.6 465.3,120.8 466.0,120.8 466.7,120.7 467.3,119.7 468.0,120.3 468.7,119.7 469.3,119.9 470.0,119.8 470.7,120.3 471.3,120.3 472.0,119.7 472.7,119.4 473.3,119.4 474.0,119.4 474.7,118.8 475.3,118.8 476.0,119.3 476.6,118.8 477.2,118.8 477.8,118.4 478.4,117.9 479.0,116.8 479.6,116.3 480.2,116.2 480.8,116.1 481.4,115.9 482.0,115.7 482.4,116.0 482.8,117.1 483.1,117.0 483.5,117.8 483.9,118.8 484.2,119.3 484.6,119.2 485.0,119.7 485.6,120.7 486.2,120.1 486.8,120.5 487.4,121.3 488.0,121.6 488.5,120.8 489.0,120.2 489.5,119.9 490.0,120.2 490.5,119.4 491.0,119.6 491.7,119.1 492.3,119.2 493.0,117.8 493.3,118.6 493.7,119.1 494.0,120.2 494.3,120.7 494.7,121.0 495.0,122.2 495.3,122.3 495.7,123.2 496.0,123.7 496.4,123.8 496.8,122.8 497.2,122.0 497.6,121.2 498.0,121.1 498.4,120.8 498.8,120.3 499.2,120.0 499.6,119.3 500.0,118.1 500.7,118.2 501.3,119.2 502.0,119.5 502.7,119.5 503.3,120.1 504.0,120.1 504.6,119.4 505.2,119.0 505.8,118.5 506.4,118.9 507.0,118.9 507.7,119.3 508.3,119.2 509.0,119.8 509.7,119.8 510.3,119.3 511.0,118.7 511.7,118.2 512.3,118.0 513.0,117.2 513.4,117.8 513.8,118.9 514.2,119.8 514.6,119.8 515.0,120.2 515.4,120.7 515.8,121.3 516.2,122.3 516.6,122.4 517.0,123.6 517.5,122.2 518.0,121.9 518.5,121.7 519.1,121.2 519.6,121.3 520.1,120.8 520.6,120.5 521.1,120.6 521.7,120.4 522.2,121.6 522.8,122.1 523.4,122.5 523.9,122.7 524.5,123.8 525.0,124.5 525.6,123.9 526.2,124.9 526.8,124.9 527.4,125.5 528.0,126.3 528.6,126.7 529.2,126.7 529.8,126.5 530.4,127.7 531.0,127.2 531.6,127.8 532.2,128.7 532.8,128.4 533.4,128.7 534.0,129.8 534.6,130.2 535.2,129.8 535.8,130.2 536.4,130.4 537.0,130.6 537.7,131.0 538.3,132.2 539.0,131.4 539.7,131.8 540.3,132.1 541.0,132.2 541.7,133.1 542.3,133.6 543.0,134.0 543.7,133.9 544.3,134.2 545.0,133.4 545.7,133.9 546.3,134.8 547.0,133.9 547.6,134.4 548.2,135.0 548.9,135.1 549.5,135.8 550.1,135.5 550.8,136.0 551.4,137.2 552.0,136.6 552.6,137.9 553.1,137.4 553.7,138.7 554.3,138.7 554.9,139.0 555.4,138.8 556.0,139.1 556.8,139.8 557.5,138.9 558.2,138.8 559.0,139.4 559.6,139.9 560.1,139.3 560.7,140.8 561.3,140.8 561.9,141.0 562.4,141.1 563.0,141.9 563.4,143.1 563.9,142.8 564.3,143.2 564.8,143.8 565.2,144.3 565.7,145.2 566.1,146.4 566.6,145.9 567.0,146.6 567.5,148.0 568.0,148.6 568.5,149.1 569.0,148.7 569.5,149.3 570.0,150.5 570.5,150.5 571.0,151.2 571.7,151.0 572.3,150.9 573.0,151.5 573.7,152.2 574.3,152.5 575.0,152.5 575.5,152.8 576.0,153.3 576.5,153.6 577.0,154.2 577.5,155.0 578.0,154.6 578.4,155.7 578.8,156.8 579.1,157.3 579.5,157.1 579.9,158.7 580.2,159.2 580.6,159.0 581.0,159.7 581.5,160.2 582.0,160.7 582.5,162.4 583.0,162.3 583.6,163.2 584.2,162.6 584.9,162.8 585.5,164.1 586.1,164.4 586.8,164.9 587.4,164.9 588.0,165.0 588.5,165.8 588.9,165.5 589.4,166.5 589.8,166.9 590.3,167.0 590.7,168.1 591.2,168.2 591.6,168.9 592.1,169.3 592.5,169.7 593.0,170.2 593.6,170.9 594.1,171.8 594.7,172.1 595.2,172.4 595.8,172.8 596.3,172.5 596.9,173.8 597.4,173.3 598.0,173.5 598.6,174.4 599.1,175.1 599.7,175.0 600.2,175.8 600.8,175.7 601.3,177.0 601.9,176.7 602.4,177.2 603.0,177.6 603.6,178.4 604.2,178.9 604.8,178.7 605.4,178.9 606.0,179.4 606.6,179.1 607.2,179.9 607.8,180.7 608.4,181.0 609.0,180.5 609.4,182.0 609.9,182.0 610.3,183.3 610.7,183.1 611.1,183.5 611.6,184.5 612.0,185.5 612.3,185.5 612.6,186.6 612.9,187.1 613.2,187.2 613.5,187.8 613.8,188.6 614.1,189.1 614.4,189.6 614.7,190.6 615.0,191.5 615.7,191.1 616.3,190.6 617.0,190.7 617.7,190.8 618.3,191.1 619.0,190.6 619.5,191.0 620.0,191.8 620.5,192.2 621.0,192.4 621.5,193.5 622.0,194.5 622.5,194.5 623.0,195.3 623.6,195.6 624.2,195.9 624.9,196.2 625.5,195.9 626.1,196.5 626.8,196.0 627.4,197.2 628.0,196.9 628.7,197.1 629.4,197.8 630.1,197.2 630.9,197.2 631.6,198.1 632.3,198.0 633.0,197.5 633.6,197.8 634.2,198.6 634.9,198.5 635.5,199.9 636.1,199.5 636.8,200.0 637.4,200.5 638.0,201.0 638.6,201.3 639.1,201.9 639.7,202.3 640.2,202.4 640.8,202.4 641.3,203.8 641.9,203.9 642.4,203.5 643.0,204.3 643.5,205.2 644.0,206.0 644.5,205.4 645.0,205.9 645.5,207.0 646.0,207.4 646.5,208.5 647.0,209.0 647.5,208.9 648.0,209.5 648.8,209.5 649.5,209.8 650.2,208.8 651.0,208.9 651.6,208.9 652.1,209.9 652.7,209.5 653.3,211.0 653.9,210.9 654.4,211.3 655.0,211.1 655.7,211.6 656.3,212.2 657.0,212.9 657.7,212.8 658.3,212.8 659.0,214.0 659.7,213.6 660.3,213.4 661.0,213.0 661.7,213.2 662.3,213.9 663.0,213.0 663.7,213.3 664.3,213.3 665.0,212.8 665.7,213.2 666.3,213.2 667.0,213.0 667.7,213.1 668.3,212.7 669.0,212.8 669.7,213.5 670.3,213.5 671.0,213.6 671.6,214.8 672.2,214.4 672.9,215.5 673.5,216.0 674.1,215.4 674.8,216.7 675.4,216.5 676.0,216.7 676.5,217.1 677.0,217.4 677.5,218.5 678.0,218.9 678.5,219.9 679.0,220.4 679.5,220.0 680.0,220.9 680.6,221.3 681.1,221.5 681.7,222.0 682.3,222.4 682.9,223.4 683.4,223.4 684.0,223.5 684.8,223.8 685.5,224.2 686.2,224.5 687.0,224.3 687.6,225.3 688.1,225.2 688.7,226.3 689.3,226.7 689.9,226.6 690.4,227.8 691.0,227.9 691.6,228.5 692.1,229.0 692.7,229.4 693.3,229.6 693.9,229.6 694.4,230.9 695.0,231.4 695.7,231.1 696.3,231.2 697.0,230.9 697.7,231.7 698.3,231.6 699.0,231.1 699.4,232.3 699.9,233.0 700.3,232.7 700.8,234.0 701.2,233.9 701.7,234.1 702.1,235.2 702.6,235.3 703.0,236.3 703.7,236.3 704.3,236.0 705.0,236.7 705.7,237.4 706.3,237.1 707.0,237.4 707.6,237.4 708.2,236.4 708.8,236.0 709.4,235.6 710.0,235.4 710.4,234.1 710.7,233.3 711.1,233.6 711.5,232.7 711.8,231.9 712.2,232.0 712.5,231.4 712.9,230.4 713.3,230.3 713.6,229.6 714.0,228.9 714.6,227.9 715.1,227.1 715.7,227.5 716.3,227.1 716.8,226.3 717.4,226.0 717.9,226.5 718.4,226.6 718.9,227.5 719.5,227.8 720.0,228.0 720.5,228.1 721.0,229.1 721.7,229.1 722.3,229.9 723.0,229.6 723.7,230.2 724.3,230.3 725.0,230.9 725.7,231.4 726.3,231.2 727.0,231.5 727.7,232.3 728.3,232.3 729.0,233.0 729.4,233.2 729.7,233.7 730.1,234.8 730.4,235.8 730.8,236.3 731.1,236.4 731.5,236.9 731.9,237.0 732.2,237.9 732.6,238.5 733.0,239.8 733.4,239.4 733.8,240.9 734.1,240.9 734.5,241.4 734.8,241.8 735.2,243.2 735.5,242.9 735.8,243.9 736.2,244.4 736.5,244.6 736.8,245.2 737.2,246.7 737.5,247.0 738.2,246.7 739.0,246.7 739.7,245.5 739.9,245.6 740.2,245.0 740.4,243.8 740.6,243.4 740.9,243.4 741.1,242.0 741.3,241.8 741.5,240.5 741.8,240.5 742.0,239.3 742.2,239.0 742.5,238.2 742.7,238.1 743.2,237.6 743.8,236.8 744.3,236.6 744.9,235.9 745.4,235.9 746.0,234.8 746.5,234.8 747.2,234.7 748.0,234.4 748.8,234.0 749.5,234.0 750.2,234.5 751.0,234.0 751.6,235.0 752.3,235.1 752.9,236.0 753.6,236.3 754.2,236.5 754.9,236.5 755.5,236.5 756.0,237.6 756.6,238.4 757.1,239.1 757.6,238.8 758.1,239.2 758.7,240.7 759.2,241.0 759.7,241.2 760.2,242.0 760.6,241.8 761.1,242.8 761.6,243.5 762.0,243.9 762.5,243.9 763.0,244.4 763.7,245.2 764.4,245.7 765.1,245.0 765.8,245.1 766.4,245.4 767.1,246.4 767.8,246.2 768.5,246.5" stroke="#000"/>
</g>
<path d="M103.50 355.50V102.50M132.50 355.50V102.50M161.50 355.50V102.50M190.50 355.50V102.50M219.50 355.50V102.50M248.50 355.50V102.50M276.50 355.50V102.50M305.50 355.50V102.50M334.50 355.50V102.50M363.50 355.50V102.50M392.50 355.50V102.50M421.50 355.50V102.50M450.50 355.50V102.50M479.50 355.50V102.50M508.50 355.50V102.50M537.50 355.50V102.50M566.50 355.50V102.50M595.50 355.50V102.50M623.50 355.50V102.50M652.50 355.50V102.50M681.50 355.50V102.50M710.50 355.50V102.50M739.50 355.50V102.50M74.50 326.50H768.50M74.50 297.50H768.50M74.50 269.50H768.50M74.50 240.50H768.50M74.50 212.50H768.50M74.50 183.50H768.50M74.50 154.50H768.50M74.50 126.50H768.50" stroke="#000" stroke-width="0.69" stroke-dasharray="1.39 4.17" fill="none"/>
<path d="M74.50 355.50v-5.56M74.50 102.50v5.56M103.50 355.50v-5.56M103.50 102.50v5.56M132.50 355.50v-5.56M132.50 102.50v5.56M161.50 355.50v-5.56M161.50 102.50v5.56M190.50 355.50v-5.56M190.50 102.50v5.56M219.50 355.50v-5.56M219.50 102.50v5.56M248.50 355.50v-5.56M248.50 102.50v5.56M276.50 355.50v-5.56M276.50 102.50v5.56M305.50 355.50v-5.56M305.50 102.50v5.56M334.50 355.50v-5.56M334.50 102.50v5.56M363.50 355.50v-5.56M363.50 102.50v5.56M392.50 355.50v-5.56M392.50 102.50v5.56M421.50 355.50v-5.56M421.50 102.50v5.56M450.50 355.50v-5.56M450.50 102.50v5.56M479.50 355.50v-5.56M479.50 102.50v5.56M508.50 355.50v-5.56M508.50 102.50v5.56M537.50 355.50v-5.56M537.50 102.50v5.56M566.50 355.50v-5.56M566.50 102.50v5.56M595.50 355.50v-5.56M595.50 102.50v5.56M623.50 355.50v-5.56M623.50 102.50v5.56M652.50 355.50v-5.56M652.50 102.50v5.56M681.50 355.50v-5.56M681.50 102.50v5.56M710.50 355.50v-5.56M710.50 102.50v5.56M739.50 355.50v-5.56M739.50 102.50v5.56M768.50 355.50v-5.56M768.50 102.50v5.56M74.50 355.50h5.56M768.50 355.50h-5.56M74.50 326.50h5.56M768.50 326.50h-5.56M74.50 297.50h5.56M768.50 297.50h-5.56M74.50 269.50h5.56M768.50 269.50h-5.56M74.50 240.50h5.56M768.50 240.50h-5.56M74.50 212.50h5.56M768.50 212.50h-5.56M74.50 183.50h5.56M768.50 183.50h-5.56M74.50 154.50h5.56M768.50 154.50h-5.56M74.50 126.50h5.56M768.50 126.50h-5.56" stroke="#000" stroke-width="0.69" fill="none"/>
<rect x="74.5" y="102.5" width="694.00" height="253.00" fill="none" stroke="#000" stroke-width="1.39"/>
</svg>
</body></html>
